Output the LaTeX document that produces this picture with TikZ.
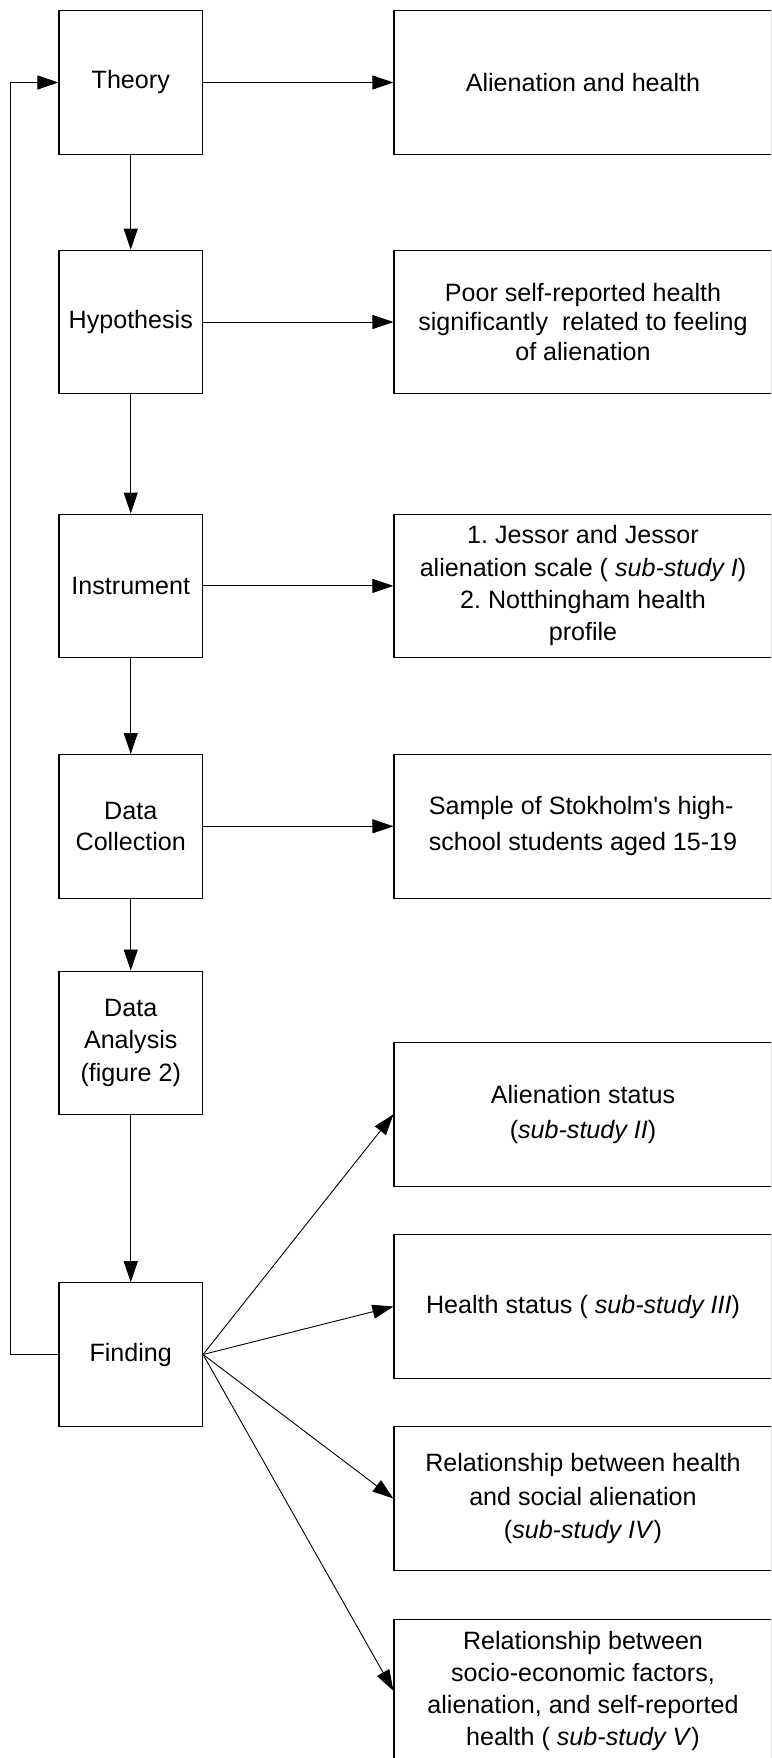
\documentclass[tikz,border=0pt]{standalone}
\usepackage{fontspec}
\setmainfont{Liberation Sans}[Ligatures=TeXOff]
\usetikzlibrary{arrows.meta}
\frenchspacing
\newcommand{\fsz}[1]{\fontsize{25.1}{#1}\selectfont}
\tikzset{
  lbox/.style={draw, line width=1.1pt, minimum width=143.5pt, minimum height=143.5pt, inner sep=0pt, align=center, font=\fsz{32}},
  rbox/.style={draw, line width=1.1pt, minimum width=378pt, minimum height=143.5pt, inner sep=0pt, align=center, font=\fsz{32}},
  arr/.style={line width=0.9pt, -{Triangle[length=21pt,width=14pt]}}
}
\begin{document}
\begin{tikzpicture}[x=1pt,y=1pt]
\useasboundingbox (0,0) rectangle (771,-1758);
\clip (0,0) rectangle (771,-1758);
% left column
\node[lbox] (theory) at (130.75,-82.5) {Theory};
\node[lbox] (hyp) at (130.75,-322) {Hypothesis};
\node[lbox] (inst) at (130.75,-585.9) {Instrument};
\node[lbox, font=\fsz{31}] (dcol) at (130.75,-826.3) {Data\\Collection};
\node[lbox, font=\fsz{32.5}] (dana) at (130.75,-1042.8) {Data\\Analysis\\(figure 2)};
\node[lbox] (find) at (130.75,-1354.5) {Finding};
% right column
\node[rbox] (r1) at (583,-82.5) {Alienation and health};
\node[rbox, font=\fsz{29.7}] (r2) at (583,-322) {Poor self-reported health\\significantly~ related to feeling\\of alienation};
\node[rbox, font=\fsz{32.3}] (r3) at (583,-585.9) {1. Jessor and Jessor\\alienation scale ( \textit{sub-study I})\\2. Notthingham health\\profile};
\node[rbox, font=\fsz{31}] (r4) at (583,-826.3) {\begin{tabular}{@{}l@{}}Sample of Stokholm's high-\\[5.5pt]school students aged 15-19\end{tabular}};
\node[rbox, font=\fsz{35.6}] (r5) at (583,-1114.3) {Alienation status\\ (\textit{sub-study II})};
\node[rbox] (r6) at (583,-1306.5) {Health status ( \textit{sub-study III})};
\node[rbox, font=\fsz{33.5}] (r7) at (583,-1498.5) {Relationship between health\\and social alienation\\ (\textit{sub-study IV})};
\node[rbox, font=\fsz{32.2}] (r8) at (583,-1690.8) {Relationship between\\socio-economic factors,\\alienation, and self-reported\\health ( \textit{sub-study V})};
% vertical flow
\draw[arr] (theory) -- (hyp);
\draw[arr] (hyp) -- (inst);
\draw[arr] (inst) -- (dcol);
\draw[arr] (dcol) -- (dana);
\draw[arr] (dana) -- (find);
% horizontal
\draw[arr] (theory) -- (r1);
\draw[arr] (hyp) -- (r2);
\draw[arr] (inst) -- (r3);
\draw[arr] (dcol) -- (r4);
% findings
\draw[arr] (find.east) -- (r5.west);
\draw[arr] (find.east) -- (r6.west);
\draw[arr] (find.east) -- (r7.west);
\draw[arr] (find.east) -- (r8.west);
% feedback
\coordinate (fb) at (10.7,-1354.5);
\draw[arr] (find.west) -- (fb) |- (theory.west);
\end{tikzpicture}
\end{document}
